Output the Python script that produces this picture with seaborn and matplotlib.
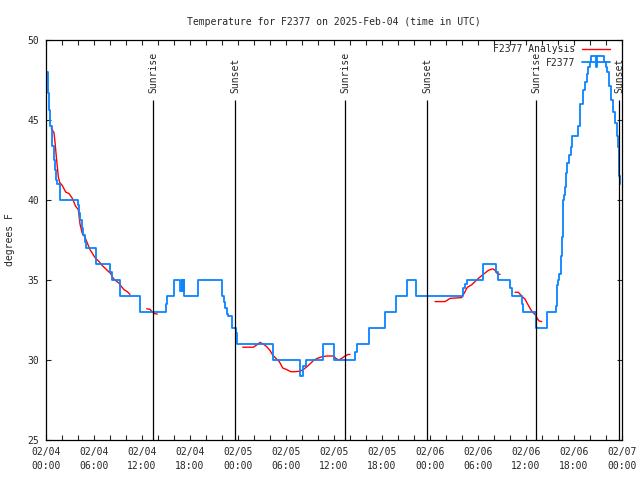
# ============================================================
# TEMPERATURE FOR F2377 (3 days, time in UTC)
# ============================================================

import numpy as np
import pandas as pd
import matplotlib
matplotlib.use("Agg")
import matplotlib.pyplot as plt
from matplotlib.lines import Line2D
import seaborn as sns


# ============================================================
# DATA (hours since 2025-02-04 00:00 UTC, degrees F)
# ============================================================

# observed station temperature (step line)
obs_hours = [
    0.1, 0.25, 0.38, 0.5, 0.69, 0.81, 0.94, 1.13, 1.25, 1.38, 1.75,
    3.94, 4.13, 4.25, 4.44, 4.63, 4.88, 5.06, 6.25, 8.0, 8.25, 9.25,
    11.75, 14.96, 15.13, 15.94, 16.81, 16.94, 17.06, 17.19, 17.29, 18.94,
    21.96, 22.19, 22.38, 22.63, 22.81, 23.19, 23.75, 23.88, 28.41, 31.75,
    32.16, 32.46, 34.59, 36.04, 38.66, 38.91, 40.34, 42.38, 43.81, 45.13,
    46.31, 52.13, 52.38, 52.63, 54.66, 56.25, 56.54, 58.06, 58.19, 59.5,
    59.66, 61.31, 62.59, 63.81, 63.88, 64.04, 64.16, 64.34, 64.46, 64.59,
    64.79, 64.91, 65.0, 65.16, 65.38, 65.59, 65.75, 66.54, 66.69, 67.16,
    67.38, 67.59, 67.79, 68.0, 68.16, 68.69, 68.88, 69.75, 69.94, 70.13,
    70.38, 70.66, 70.88, 71.09, 71.34, 71.54, 71.66, 71.75,
]
obs_temps = [
    48.0, 46.7, 45.6, 44.6, 44.1, 43.4, 42.5, 41.9, 41.25, 41.0, 40.0,
    39.7, 39.2, 38.75, 38.25, 37.8, 37.4, 37.0, 36.0, 35.5, 35.0, 34.0,
    33.0, 33.5, 34.0, 35.0, 34.3, 35.0, 34.3, 35.0, 34.0, 35.0,
    34.0, 33.6, 33.25, 32.9, 32.75, 32.0, 31.7, 31.0, 30.0, 29.0,
    29.6, 30.0, 31.0, 30.0, 30.5, 31.0, 32.0, 33.0, 34.0, 35.0,
    34.0, 34.5, 34.75, 35.0, 36.0, 35.5, 35.0, 34.5, 34.0, 33.5,
    33.0, 32.0, 33.0, 33.4, 34.7, 35.0, 35.4, 36.5, 37.7, 40.0,
    40.3, 40.8, 41.7, 42.3, 42.8, 43.3, 44.0, 44.6, 46.0, 46.9,
    47.4, 47.9, 48.3, 48.6, 49.0, 48.3, 49.0, 48.6, 48.3, 48.0,
    47.1, 46.25, 45.5, 44.8, 44.0, 43.3, 41.5, 41.0,
]

# analysis curve, drawn in separate pieces
ana1_hours = [0.66, 1.0, 1.13, 1.29, 1.41, 1.54, 1.71, 2.04, 2.46, 2.88,
              3.29, 3.71, 4.04, 4.25, 4.54, 4.84, 5.5, 6.13, 6.63, 7.04,
              7.46, 7.75, 8.09, 8.41, 8.71, 9.13, 9.41, 9.75, 10.16, 10.5]
ana1_temps = [44.5, 44.2, 43.6, 42.7, 42.1, 41.45, 41.1, 40.9, 40.5, 40.4,
              40.1, 39.6, 39.4, 38.5, 37.9, 37.7, 36.9, 36.4, 36.15, 35.9,
              35.7, 35.56, 35.4, 35.1, 34.96, 34.8, 34.6, 34.4, 34.27, 34.1]

ana2_hours = [12.59, 13.0, 13.29, 13.54, 13.91]
ana2_temps = [33.2, 33.17, 33.0, 32.9, 32.87]

ana3_hours = [24.59, 25.91, 26.34, 26.75, 27.16, 27.59, 28.0, 28.34, 28.75,
              29.16, 29.59, 30.09, 30.59, 31.13, 31.75, 32.16, 32.66, 33.09,
              33.5, 33.91, 34.46, 35.09, 35.91, 36.25, 36.54, 36.96, 37.38,
              37.79, 38.0]
ana3_temps = [30.8, 30.8, 30.94, 31.1, 31.0, 30.83, 30.6, 30.3, 30.1,
              29.9, 29.5, 29.4, 29.27, 29.27, 29.3, 29.4, 29.6, 29.8,
              30.0, 30.1, 30.2, 30.25, 30.25, 30.1, 30.0, 30.1, 30.25,
              30.35, 30.35]

ana4_hours = [48.63, 49.88, 50.5, 51.96, 52.38, 52.66, 53.21, 53.63, 54.04,
              54.66, 55.29, 55.84, 56.13, 56.41, 56.75]
ana4_temps = [33.65, 33.65, 33.85, 33.9, 34.27, 34.54, 34.7, 34.9, 35.1,
              35.35, 35.6, 35.7, 35.6, 35.4, 35.35]

ana5_hours = [58.63, 59.04, 59.46, 59.88, 60.16, 60.5, 60.79, 61.13, 61.41,
              61.63, 61.96]
ana5_temps = [34.23, 34.23, 34.0, 33.8, 33.54, 33.23, 33.0, 32.85, 32.6,
              32.44, 32.4]

# sunrise / sunset markers
sun_hours = [13.41, 23.66, 37.41, 47.66, 61.31, 71.66]
sun_labels = ["Sunrise", "Sunset", "Sunrise", "Sunset", "Sunrise", "Sunset"]

# x tick labels every 6 hours
tick_hours = list(range(0, 73, 6))
tick_labels = [
    "02/04\n00:00", "02/04\n06:00", "02/04\n12:00", "02/04\n18:00",
    "02/05\n00:00", "02/05\n06:00", "02/05\n12:00", "02/05\n18:00",
    "02/06\n00:00", "02/06\n06:00", "02/06\n12:00", "02/06\n18:00",
    "02/07\n00:00",
]


# ============================================================
# BUILD TABLES
# ============================================================

obs_df = pd.DataFrame({"hour": obs_hours, "temp": obs_temps})

pieces = [
    (ana1_hours, ana1_temps), (ana2_hours, ana2_temps),
    (ana3_hours, ana3_temps), (ana4_hours, ana4_temps),
    (ana5_hours, ana5_temps),
]
ana_df = pd.concat(
    [pd.DataFrame({"hour": h, "temp": t, "piece": i})
     for i, (h, t) in enumerate(pieces)],
    ignore_index=True,
)


# ============================================================
# STYLE
# ============================================================

sns.set_style("ticks")
plt.rcParams["font.family"] = ["DejaVu Sans Mono"]
plt.rcParams["font.size"] = 7

blue = "#0a84ff"
red = "#ff0000"


# ============================================================
# PLOT
# ============================================================

fig = plt.figure(figsize=(6.4, 4.8), dpi=100)
ax = fig.add_axes([46 / 640, 40 / 480, 576 / 640, 400 / 480])

sns.lineplot(
    data=ana_df, x="hour", y="temp", units="piece", estimator=None,
    color=red, linewidth=1.0, ax=ax, legend=False,
)

sns.lineplot(
    data=obs_df, x="hour", y="temp", drawstyle="steps-post",
    color=blue, linewidth=1.3, ax=ax, legend=False,
)

for h, lab in zip(sun_hours, sun_labels):
    ax.vlines(h, 25, 46.25, color="black", linewidth=0.9)
    ax.text(h, 46.7, lab, rotation=90, ha="center", va="bottom",
            fontsize=7, clip_on=False)

ax.set_xlim(0, 72)
ax.set_ylim(25, 50)

ax.set_xticks(tick_hours)
ax.set_xticklabels(tick_labels, linespacing=1.55)
ax.set_xticks(range(0, 73, 2), minor=True)
ax.set_yticks([25, 30, 35, 40, 45, 50])

ax.tick_params(which="both", direction="in", top=True, right=True,
               length=3.5, width=0.8, labelsize=7, pad=5)
ax.tick_params(which="minor", length=3.5)

for side in ax.spines.values():
    side.set_linewidth(0.9)
    side.set_color("black")

ax.set_xlabel("")
ax.set_ylabel("degrees F", fontsize=7, labelpad=9)
ax.set_title("Temperature for F2377 on 2025-Feb-04 (time in UTC)",
             fontsize=7, pad=11)

handles = [
    Line2D([], [], color=red, linewidth=1.0),
    Line2D([], [], color=blue, linewidth=1.3),
]
ax.legend(
    handles, ["F2377 Analysis", "F2377"],
    loc="upper right", bbox_to_anchor=(610 / 640, 1 - 44 / 480),
    bbox_transform=fig.transFigure, frameon=False, markerfirst=False,
    borderpad=0, borderaxespad=0, handlelength=2.9, handletextpad=0.7,
    labelspacing=0.4, fontsize=7,
)

fig.savefig("out.png", dpi=100)
